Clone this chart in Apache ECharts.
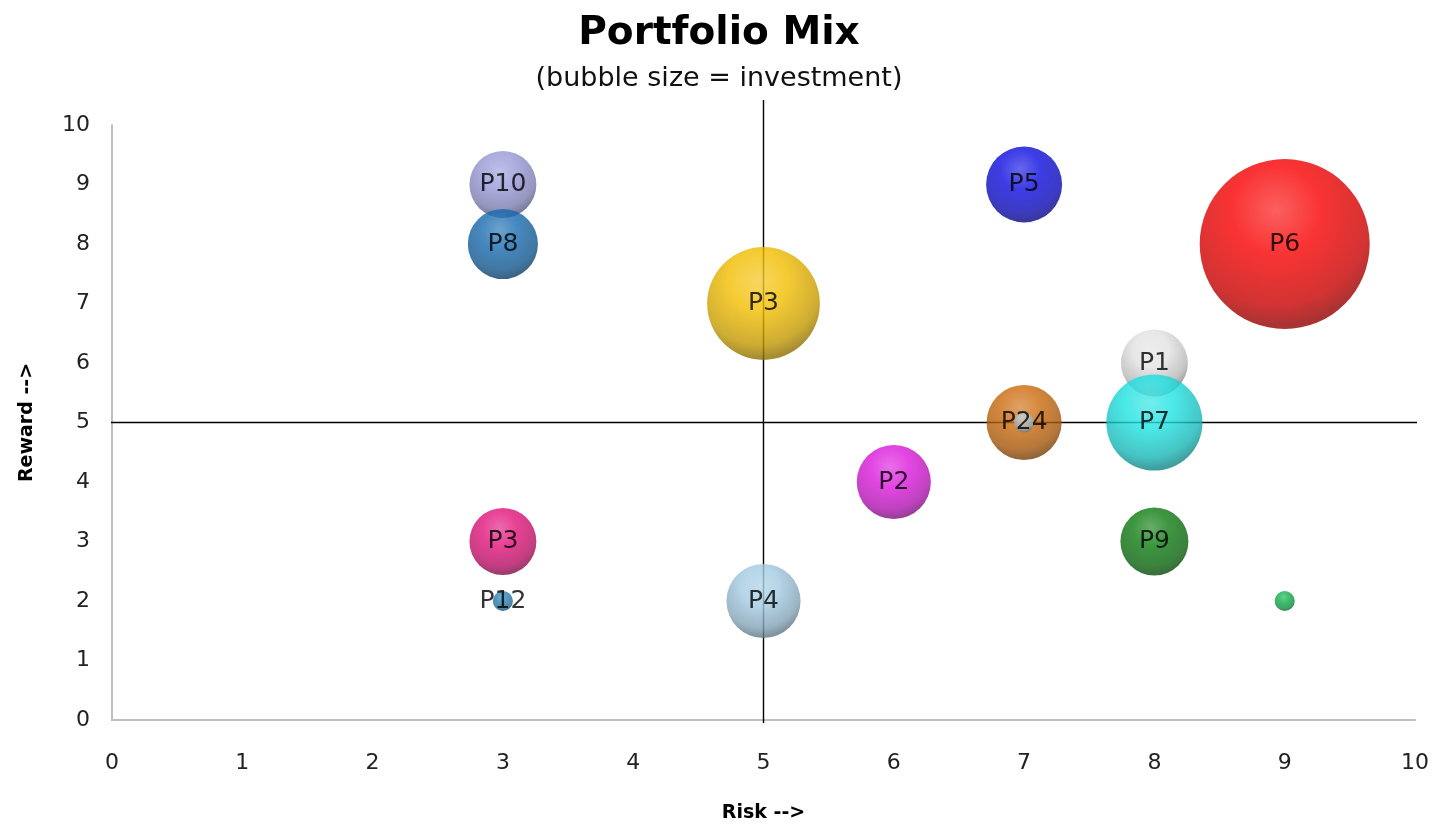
<!DOCTYPE html>
<html>
<head>
<meta charset="utf-8">
<script src="https://cdn.jsdelivr.net/npm/echarts@6/dist/echarts.min.js"></script>
<style>
html,body{margin:0;padding:0;background:#fff;}
#chart{width:1438px;height:826px;}
</style>
</head>
<body>
<div id="chart"></div>
<script>
// ---- data ----
var names      = ['P10','P8','P3','P5','P6','P1','P24','','P7','P2','P3','P9','P12','P4',''];
var risk       = [3,    3,   5,   7,   9,   8,   7,    7,  8,   6,   3,   8,   3,    5,   9];
var reward     = [9,    8,   7,   9,   8,   6,   5,    5,  5,   4,   3,   3,   2,    2,   2];
var investment = [15.5, 17,  44,  20,  100, 15.5,19.5, 1.4,32,  19,  15.5,16,  1.4,  19,  1.4];
var xTicks = [0,1,2,3,4,5,6,7,8,9,10];
var yTicks = [0,1,2,3,4,5,6,7,8,9,10];
var midRisk = 5, midReward = 5;

// ---- styles ----
var FONT = 'DejaVu Sans';
var palette = ['#9898d8','#176ab0','#f2be00','#0c0ce0','#f80000','#e2e2e2','#cc6a0c','#b8c8d2',
               '#1ee2e2','#dc18dc','#e2127a','#0d7c10','#2a82b4','#a2cae2','#10b04c'];

function shade(hex, f){
  var n = parseInt(hex.slice(1),16);
  var r=(n>>16)&255,g=(n>>8)&255,b=n&255;
  function m(c){ return f>=0 ? Math.round(c+(255-c)*f) : Math.round(c*(1+f)); }
  return 'rgb('+m(r)+','+m(g)+','+m(b)+')';
}
function sphere(c){
  return new echarts.graphic.RadialGradient(0.45,0.3,0.75,[
    {offset:0, color:shade(c,0.22)},
    {offset:0.35, color:c},
    {offset:0.75, color:shade(c,-0.2)},
    {offset:0.92, color:shade(c,-0.42)},
    {offset:1, color:shade(c,-0.25)}
  ]);
}

var bubbles = names.map(function(n,i){
  return {
    name:n,
    value:[risk[i],reward[i],investment[i]],
    itemStyle:{color:sphere(palette[i])},
    label:{show:n!==''}
  };
});

var chart = echarts.init(document.getElementById('chart'),null,{renderer:'canvas'});
chart.setOption({
  animation:false,
  backgroundColor:'#fff',
  title:[{
    text:'Portfolio Mix',
    left:'center', top:9,
    textStyle:{fontFamily:FONT, fontSize:39, fontWeight:'bold', color:'#000'}
  },{
    text:'(bubble size = investment)',
    left:'center', top:60,
    textStyle:{fontFamily:FONT, fontSize:27, fontWeight:'normal', color:'#111'}
  }],
  grid:{left:112,right:23,top:125,bottom:106,containLabel:false,outerBoundsMode:'none'},
  xAxis:{
    type:'value', min:0, max:10, interval:1,
    name:'Risk -->', nameLocation:'middle', nameGap:84,
    nameTextStyle:{fontFamily:FONT, fontSize:19, fontWeight:'bold', color:'#000'},
    axisLine:{show:true,lineStyle:{color:'#bfbfbf',width:2}},
    axisTick:{show:false},
    splitLine:{show:false},
    axisLabel:{margin:32,fontFamily:FONT,fontSize:22,color:'#222',
      formatter:function(v){return xTicks.indexOf(v)>=0?String(v):'';}}
  },
  yAxis:{
    type:'value', min:0, max:10, interval:1,
    name:'Reward -->', nameLocation:'middle', nameGap:75,
    nameTextStyle:{fontFamily:FONT, fontSize:19, fontWeight:'bold', color:'#000'},
    axisLine:{show:true,lineStyle:{color:'#bfbfbf',width:2}},
    axisTick:{show:false},
    splitLine:{show:false},
    axisLabel:{margin:22,fontFamily:FONT,fontSize:22,color:'#222',
      formatter:function(v){return yTicks.indexOf(v)>=0?String(v):'';}}
  },
  series:[{
    type:'line', clip:false, symbol:'none', silent:true, z:1,
    lineStyle:{color:'#000',width:1.4},
    data:[[midRisk,-0.05],[midRisk,10.42]]
  },{
    type:'line', clip:false, symbol:'none', silent:true, z:1,
    lineStyle:{color:'#000',width:1.4},
    data:[[-0.03,midReward],[10.04,midReward]]
  },{
    type:'scatter', z:3,
    symbolSize:function(v){ return 2*8.5*Math.sqrt(v[2]); },
    label:{position:'inside',formatter:'{b}',fontFamily:FONT,fontSize:25,color:'#000'},
    emphasis:{disabled:true},
    data:bubbles
  }]
});
</script>
</body>
</html>
